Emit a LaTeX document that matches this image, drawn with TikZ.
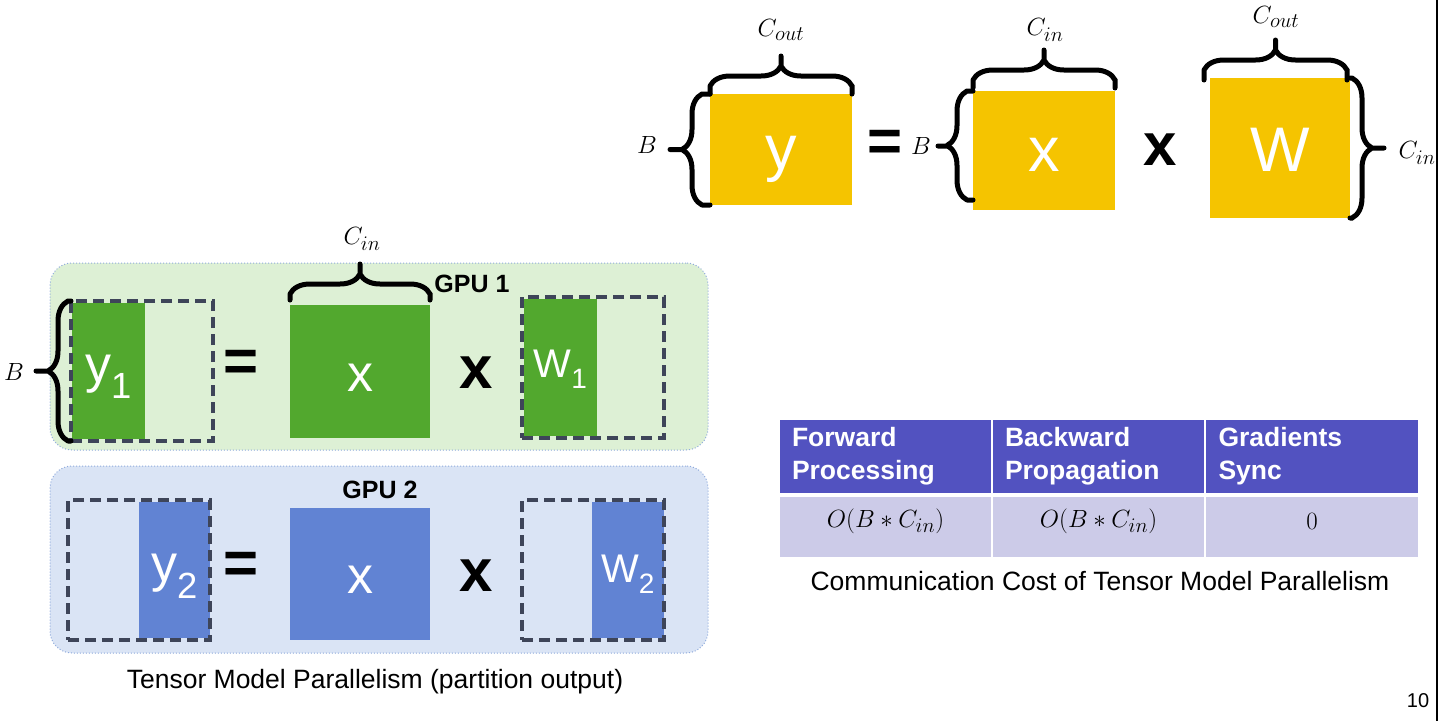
\documentclass[tikz,border=0pt]{standalone}
\usepackage{fontspec}
\setmainfont{Liberation Sans}
\usetikzlibrary{positioning,decorations.pathreplacing}
\definecolor{gold}{HTML}{F5C400}
\definecolor{leaf}{HTML}{52A82E}
\definecolor{sky}{HTML}{6183D3}
\definecolor{leafbg}{HTML}{DDF0D5}
\definecolor{skybg}{HTML}{DAE4F5}
\definecolor{slate}{HTML}{3E4559}
\definecolor{rim}{HTML}{8FAADC}
\definecolor{thead}{HTML}{5252C0}
\definecolor{trow}{HTML}{CCCBE8}

\begin{document}
\begin{tikzpicture}[x=1pt,y=-1pt,
  every node/.style={inner sep=0pt, outer sep=0pt},
  blk/.style={fill=#1, draw=none, text=white},
  big/.style={font=\fontsize{63}{63}\selectfont, text=white},
  mid/.style={font=\fontsize{52}{52}\selectfont, text=white},
  dbox/.style={draw=slate, dash pattern=on 11pt off 6pt, line width=4pt,
               minimum width=142, minimum height=140},
  brc/.style={decoration={brace, amplitude=20pt}, line width=5pt, line cap=round},
  lbl/.style={font=\fontsize{29}{29}\selectfont},
  op/.style={font=\bfseries\fontsize{60}{60}\selectfont},
  gpu/.style={font=\bfseries\fontsize{25}{25}\selectfont},
  panel/.style={draw=rim, dotted, line width=1pt, rounded corners=22pt,
                minimum width=658, minimum height=187},
  hcell/.style={fill=thead, text=white, minimum width=211, minimum height=73,
                text width=187, align=left, font=\bfseries\fontsize{26.5}{33}\selectfont},
  rcell/.style={fill=trow, minimum width=211, minimum height=60},
  captxt/.style={font=\fontsize{26.5}{26.5}\selectfont}]

\useasboundingbox (0,0) rectangle (1440,721);
\draw [line width=1.5pt] (1437,0) -- (1437,721);

% full product
\node [blk=gold, minimum width=142, minimum height=111] (y) at (781,149.5) {};
\node [blk=gold, minimum width=142, minimum height=119] (x) at (1044,150.5) {};
\node [blk=gold, minimum width=140, minimum height=140] (w) at (1280,148) {};
\node [big] at ([yshift=-10pt]y) {y};
\node [big] at ([yshift=-4pt]x) {x};
\node [big] at ([yshift=-2pt]w) {W};
\node [op] (eq0) at (885,146) {=};
\node [op] (mul0) at (1160,150) {x};

\draw [brc] (y.north west) -- ++(0,-8) decorate {-- ([yshift=8pt]y.north east)} -- (y.north east)
  ([yshift=28pt]y.north) -- ++(0,-10);
\draw [brc] (y.south west) -- ++(-8,0) decorate {-- ([xshift=-8pt]y.north west)} -- (y.north west)
  ([xshift=-28pt]y.west) -- ++(-12,0);
\draw [brc] ([yshift=3pt]x.north west) -- ++(0,-8) decorate {-- ([yshift=11pt]x.north east)} -- ([yshift=3pt]x.north east)
  ([yshift=31pt]x.north) -- ++(0,-10);
\draw [brc] ([yshift=10pt]x.south west) -- ++(-6,0) decorate {-- ([xshift=-6pt]x.north west)} -- (x.north west)
  (948,146) -- ++(-10,0);
\draw [brc] (1204,80) -- ++(0,-10) decorate {-- (1347,70)} -- (1347,80)
  (1275.5,50) -- ++(0,-10);
\draw [brc] (w.north east) -- ++(2,0) decorate {-- ([xshift=2pt]w.south east)} -- (w.south east)
  ([xshift=22pt]w.east) -- ++(12,0);

\node [lbl] (ycout) at (781,30) {$C_{out}$};
\node [lbl] (yb) at (647,145) {$B$};
\node [lbl] (xcin) at (1045,30) {$C_{in}$};
\node [lbl] (xb) at (921,146) {$B$};
\node [lbl] (wcout) at (1276,17) {$C_{out}$};
\node [lbl] (wcin) at (1417,153) {$C_{in}$};

% GPU 1
\node [panel, fill=leafbg] (p1) at (379,356.5) {};
\node [blk=leaf, minimum width=73, minimum height=136] (y1) at (108.5,371) {};
\node [dbox] (y1b) at (142,371) {};
\node [blk=leaf, minimum width=140, minimum height=133] (x1) at (360,371.5) {};
\node [blk=leaf, minimum width=73, minimum height=137] (w1) at (560.5,367.5) {};
\node [dbox, minimum height=141] (w1b) at (593,367.5) {};
\node [mid] at ([yshift=-6pt]y1) {y\textsubscript{1}};
\node [mid] at ([yshift=-6pt]x1) {x};
\node [font=\fontsize{40}{40}\selectfont, text=white] at ([yshift=-2pt]w1) {W\textsubscript{1}};
\node [op] (eq1) at (241,366) {=};
\node [op] (mul1) at (476,373) {x};
\node [gpu] (g1) at (472,284) {GPU 1};
\draw [brc] ([yshift=5pt]x1.north west) -- ++(0,-6) decorate {-- ([yshift=11pt]x1.north east)} -- ([yshift=5pt]x1.north east)
  ([yshift=31pt]x1.north) -- ++(0,-10);
\draw [brc] (y1b.south west) -- ++(-3,0) decorate {-- ([xshift=-3pt]y1b.north west)} -- (y1b.north west)
  ([xshift=-23pt]y1b.west) -- ++(-12,0);
\node [lbl] (x1cin) at (362,239) {$C_{in}$};
\node [lbl] (y1bl) at (14,372) {$B$};

% GPU 2
\node [panel, fill=skybg] (p2) at (379,559.5) {};
\node [blk=sky, minimum width=71, minimum height=136] (y2) at (174.5,570) {};
\node [dbox] (y2b) at (139,570) {};
\node [blk=sky, minimum width=140, minimum height=132] (x2) at (360,574) {};
\node [blk=sky, minimum width=72, minimum height=136] (w2) at (628,570) {};
\node [dbox] (w2b) at (593,570) {};
\node [mid] at ([yshift=-6pt]y2) {y\textsubscript{2}};
\node [mid] at ([yshift=-6pt]x2) {x};
\node [font=\fontsize{40}{40}\selectfont, text=white] at ([yshift=-4pt]w2) {W\textsubscript{2}};
\node [op] (eq2) at (241,568) {=};
\node [op] (mul2) at (476,576) {x};
\node [gpu] (g2) at (380,490) {GPU 2};

\node [captxt] (tmp) at (375,682) {Tensor Model Parallelism (partition output)};

% cost table
\node [hcell] (h1) at (885.5,456.5) {Forward\\Processing};
\node [hcell] (h2) at (1098.5,456.5) {Backward\\Propagation};
\node [hcell, minimum width=212] (h3) at (1312,456.5) {Gradients\\Sync};
\node [rcell] (c1) at (885.5,527) {};
\node [rcell] (c2) at (1098.5,527) {};
\node [rcell, minimum width=212] (c3) at (1312,527) {};
\node [lbl, font=\fontsize{30}{30}\selectfont] at ([yshift=6pt]c1) {$O(B\ast C_{in})$};
\node [lbl, font=\fontsize{30}{30}\selectfont] at ([yshift=6pt]c2) {$O(B\ast C_{in})$};
\node [lbl, font=\fontsize{30}{30}\selectfont] at ([yshift=6pt]c3) {$0$};
\node [captxt] (tcap) at (1100,581) {Communication Cost of Tensor Model Parallelism};

\node [font=\fontsize{20}{20}\selectfont] (pg) at (1418,701) {10};
\end{tikzpicture}
\end{document}
